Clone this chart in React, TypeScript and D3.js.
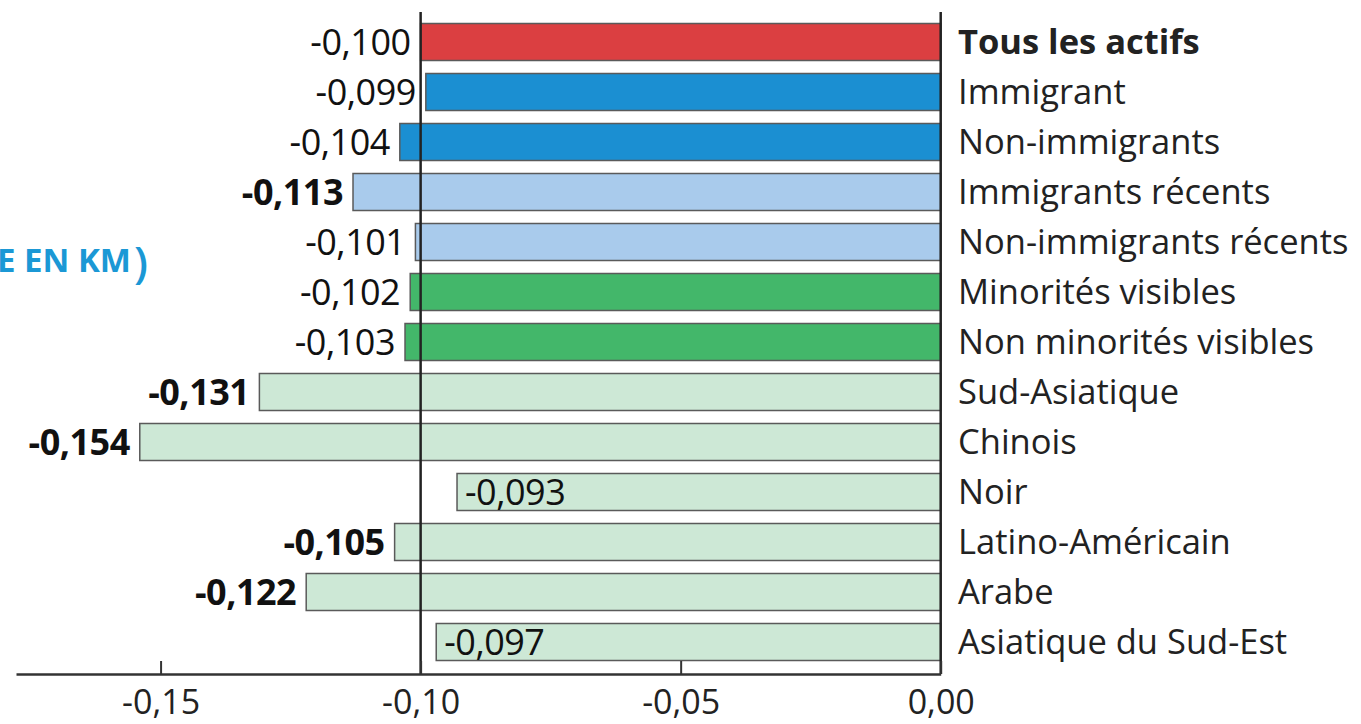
import React, { useEffect, useRef } from 'react';
import * as d3 from 'd3';

const categories: string[] = [
    "Tous les actifs",
    "Immigrant",
    "Non-immigrants",
    "Immigrants récents",
    "Non-immigrants récents",
    "Minorités visibles",
    "Non minorités visibles",
    "Sud-Asiatique",
    "Chinois",
    "Noir",
    "Latino-Américain",
    "Arabe",
    "Asiatique du Sud-Est"
];

const values: number[] = [
    -0.100, -0.099, -0.104, -0.113, -0.101, -0.102, -0.103,
    -0.131, -0.154, -0.093, -0.105, -0.122, -0.097
];

// group of each bar, drives the colour
const groups: string[] = [
    "all", "imm", "imm", "recent", "recent", "visible", "visible",
    "ethnic", "ethnic", "ethnic", "ethnic", "ethnic", "ethnic"
];

// values shown in bold in the source
const boldValue: boolean[] = [
    false, false, false, true, false, false, false,
    true, true, false, true, true, false
];

const xTicks: number[] = [-0.15, -0.10, -0.05, 0];

const groupColors: Record<string, string> = {
    all: "#db3f41",
    imm: "#1b8fd2",
    recent: "#a9cbec",
    visible: "#43b76a",
    ethnic: "#cde8d6"
};

const FONT = "'Open Sans', sans-serif";
const fmt = (v: number, digits: number) => v.toFixed(digits).replace(".", ",");

const App: React.FC = () => {
    const svgRef = useRef<SVGSVGElement>(null);

    useEffect(() => {
        if (!svgRef.current) return;
        const svg = d3.select(svgRef.current);
        svg.selectAll("*").remove();

        const axisY = 674;

        const x = d3.scaleLinear()
            .domain([-0.1778, 0])
            .range([16, 940.7]);

        const y = d3.scaleBand<string>()
            .domain(categories)
            .range([17, 667])
            .paddingInner(0.26)
            .paddingOuter(0.13);

        const rows = categories.map((c, i) => ({
            category: c,
            value: values[i],
            group: groups[i],
            bold: boldValue[i]
        }));

        // Bars
        svg.append("g")
            .selectAll("rect")
            .data(rows)
            .enter().append("rect")
            .attr("x", d => x(d.value))
            .attr("y", d => y(d.category) as number)
            .attr("width", d => x(0) - x(d.value))
            .attr("height", y.bandwidth())
            .attr("fill", d => groupColors[d.group])
            .attr("stroke", "#5a5a5a")
            .attr("stroke-width", 1.5);

        // Reference line at -0.10 and zero line
        [-0.10, 0].forEach(v => {
            svg.append("line")
                .attr("x1", x(v)).attr("x2", x(v))
                .attr("y1", 12).attr("y2", axisY)
                .attr("stroke", "#222")
                .attr("stroke-width", 2.5);
        });

        // Axis
        const axis = d3.axisBottom(x)
            .tickValues(xTicks)
            .tickSizeInner(-13)
            .tickSizeOuter(0)
            .tickFormat(d => fmt(d as number, 2));

        const gAxis = svg.append("g")
            .attr("transform", `translate(0,${axisY})`)
            .call(axis);

        gAxis.select(".domain")
            .attr("stroke", "#333")
            .attr("stroke-width", 2.5);
        gAxis.selectAll(".tick line")
            .attr("stroke", "#333")
            .attr("stroke-width", 2);
        gAxis.selectAll(".tick text")
            .attr("y", 40)
            .attr("dy", null)
            .attr("fill", "#222")
            .style("font-family", FONT)
            .style("font-size", "34px");

        // Value labels
        svg.append("g")
            .selectAll("text")
            .data(rows)
            .enter().append("text")
            .attr("x", d => d.value > -0.099 ? x(d.value) + 8 : x(d.value) - 10)
            .attr("y", d => (y(d.category) as number) + y.bandwidth() / 2 + 13)
            .attr("text-anchor", d => d.value > -0.099 ? "start" : "end")
            .attr("fill", "#111")
            .style("font-family", FONT)
            .style("font-size", "36px")
            .style("font-weight", d => d.bold ? "700" : "400")
            .style("letter-spacing", "-0.5px")
            .text(d => fmt(d.value, 3));

        // Category labels
        svg.append("g")
            .selectAll("text")
            .data(rows)
            .enter().append("text")
            .attr("x", 958)
            .attr("y", d => (y(d.category) as number) + y.bandwidth() / 2 + 12)
            .attr("fill", "#222")
            .style("font-family", FONT)
            .style("font-size", "34.5px")
            .style("font-weight", (d, i) => i === 0 ? "700" : "400")
            .text(d => d.category);

        // Cropped title fragment on the left
        const title = svg.append("text")
            .attr("x", -3)
            .attr("y", 272)
            .attr("fill", "#1b98d5")
            .style("font-family", FONT)
            .style("font-weight", "700");
        title.append("tspan").style("font-size", "33px").text("E EN KM");
        title.append("tspan").attr("dx", 3).attr("dy", 6).style("font-size", "44px").style("font-weight", "600").text(")");
    }, []);

    return (
        <svg
            ref={svgRef}
            width={1361}
            height={724}
            style={{ position: 'absolute', left: 0, top: 0, background: '#fff' }}
        />
    );
};

export default App;
